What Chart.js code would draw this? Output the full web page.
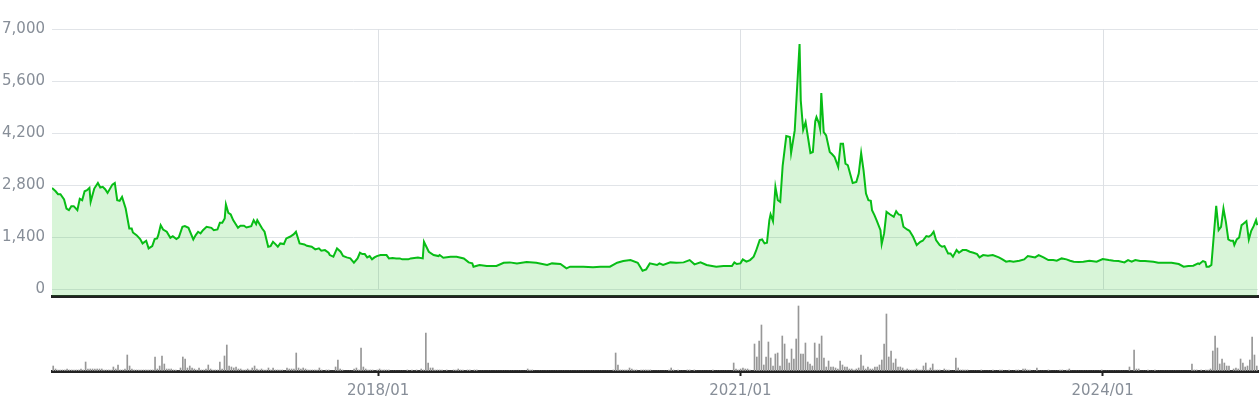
<!DOCTYPE html>
<html>
<head>
<meta charset="utf-8">
<script src="https://cdn.jsdelivr.net/npm/chart.js@4.4.1/dist/chart.umd.min.js"></script>
<style>
  html, body { margin: 0; padding: 0; background: #fff; }
  #wrap { position: relative; width: 1259px; height: 400px; overflow: hidden; }
  #priceChart { position: absolute; left: 0; top: 0; }
  #volChart { position: absolute; left: 0; top: 297px; }
</style>
</head>
<body>
<div id="wrap">
  <canvas id="priceChart" width="1259" height="312"></canvas>
  <canvas id="volChart" width="1259" height="103"></canvas>
</div>
<script>
// dates as decimal years
const priceDates = [
  2015.30, 2015.33, 2015.35, 2015.37, 2015.40, 2015.42, 2015.44, 2015.46, 2015.48, 2015.51,
  2015.53, 2015.55, 2015.57, 2015.59, 2015.61, 2015.62, 2015.65, 2015.68, 2015.70, 2015.72,
  2015.74, 2015.76, 2015.80, 2015.82, 2015.84, 2015.86, 2015.88, 2015.91, 2015.94, 2015.96,
  2015.97, 2016.00, 2016.03, 2016.05, 2016.08, 2016.10, 2016.13, 2016.15, 2016.17, 2016.18,
  2016.20, 2016.22, 2016.25, 2016.28, 2016.30, 2016.33, 2016.35, 2016.38, 2016.40, 2016.43,
  2016.47, 2016.49, 2016.51, 2016.53, 2016.55, 2016.58, 2016.62, 2016.64, 2016.67, 2016.69,
  2016.71, 2016.73, 2016.74, 2016.76, 2016.78, 2016.80, 2016.84, 2016.86, 2016.89, 2016.91,
  2016.95, 2016.97, 2016.99, 2017.00, 2017.04, 2017.06, 2017.09, 2017.11, 2017.13, 2017.15,
  2017.17, 2017.19, 2017.22, 2017.24, 2017.27, 2017.30, 2017.32, 2017.35, 2017.39, 2017.41,
  2017.45, 2017.48, 2017.51, 2017.53, 2017.56, 2017.59, 2017.60, 2017.63, 2017.66, 2017.69,
  2017.71, 2017.74, 2017.77, 2017.80, 2017.83, 2017.85, 2017.87, 2017.89, 2017.91, 2017.93,
  2017.95, 2017.97, 2017.99, 2018.02, 2018.07, 2018.09, 2018.12, 2018.15, 2018.18, 2018.20,
  2018.25, 2018.27, 2018.33, 2018.37, 2018.38, 2018.42, 2018.46, 2018.50, 2018.51, 2018.54,
  2018.60, 2018.65, 2018.71, 2018.75, 2018.78, 2018.79, 2018.84, 2018.90, 2018.98, 2019.04,
  2019.09, 2019.15, 2019.23, 2019.31, 2019.40, 2019.44, 2019.51, 2019.56, 2019.59, 2019.62,
  2019.70, 2019.78, 2019.84, 2019.92, 2019.98, 2020.03, 2020.09, 2020.15, 2020.17, 2020.19,
  2020.22, 2020.25, 2020.31, 2020.33, 2020.36, 2020.42, 2020.47, 2020.53, 2020.58, 2020.62,
  2020.67, 2020.72, 2020.80, 2020.86, 2020.93, 2020.95, 2020.97, 2021.00, 2021.02, 2021.05,
  2021.08, 2021.11, 2021.13, 2021.16, 2021.18, 2021.20, 2021.22, 2021.24, 2021.25, 2021.27,
  2021.29, 2021.31, 2021.33, 2021.35, 2021.38, 2021.41, 2021.42, 2021.45, 2021.49, 2021.50,
  2021.52, 2021.54, 2021.58, 2021.60, 2021.62, 2021.63, 2021.65, 2021.66, 2021.67, 2021.69,
  2021.71, 2021.74, 2021.76, 2021.78, 2021.81, 2021.83, 2021.85, 2021.87, 2021.89, 2021.91,
  2021.93, 2021.96, 2021.98, 2022.00, 2022.02, 2022.04, 2022.06, 2022.08, 2022.09, 2022.11,
  2022.13, 2022.16, 2022.17, 2022.19, 2022.21, 2022.24, 2022.27, 2022.29, 2022.31, 2022.33,
  2022.35, 2022.38, 2022.40, 2022.43, 2022.46, 2022.49, 2022.51, 2022.54, 2022.56, 2022.58,
  2022.60, 2022.62, 2022.65, 2022.67, 2022.69, 2022.72, 2022.74, 2022.76, 2022.79, 2022.81,
  2022.84, 2022.87, 2022.90, 2022.93, 2022.96, 2022.98, 2023.01, 2023.05, 2023.09, 2023.14,
  2023.17, 2023.20, 2023.23, 2023.26, 2023.31, 2023.35, 2023.38, 2023.41, 2023.44, 2023.47,
  2023.51, 2023.55, 2023.59, 2023.62, 2023.66, 2023.70, 2023.73, 2023.76, 2023.80, 2023.84,
  2023.89, 2023.95, 2024.00, 2024.05, 2024.09, 2024.13, 2024.18, 2024.21, 2024.24, 2024.27,
  2024.31, 2024.35, 2024.42, 2024.46, 2024.50, 2024.57, 2024.63, 2024.67, 2024.71, 2024.75,
  2024.79, 2024.80, 2024.83, 2024.85, 2024.86, 2024.88, 2024.90, 2024.94, 2024.96, 2024.98,
  2025.00, 2025.02, 2025.04, 2025.06, 2025.08, 2025.09, 2025.11, 2025.13, 2025.15, 2025.16,
  2025.19, 2025.21, 2025.23, 2025.25, 2025.27, 2025.28
];
const priceValues = [
  2727, 2637, 2557, 2557, 2414, 2172, 2128, 2235, 2235, 2128,
  2432, 2396, 2637, 2664, 2727, 2351, 2709, 2861, 2736, 2754,
  2691, 2593, 2816, 2861, 2396, 2378, 2485, 2172, 1636, 1636,
  1529, 1457, 1350, 1234, 1305, 1100, 1162, 1350, 1368, 1457,
  1725, 1609, 1547, 1386, 1430, 1350, 1395, 1681, 1699, 1654,
  1341, 1457, 1547, 1502, 1591, 1681, 1654, 1591, 1609, 1788,
  1788, 1904, 2280, 2056, 2012, 1860, 1654, 1708, 1708, 1663,
  1699, 1860, 1752, 1860, 1636, 1547, 1144, 1162, 1278, 1216,
  1144, 1234, 1216, 1368, 1413, 1475, 1547, 1234, 1207, 1171,
  1144, 1073, 1100, 1037, 1055, 983, 921, 876, 1100, 1010,
  894, 858, 831, 715, 831, 983, 948, 948, 858, 894,
  805, 858, 894, 921, 921, 831, 840, 831, 831, 805,
  805, 831, 858, 831, 1278, 1010, 921, 894, 921, 849,
  876, 876, 831, 724, 697, 608, 653, 626, 626, 715,
  724, 697, 733, 715, 653, 697, 679, 563, 608, 608,
  608, 590, 608, 608, 715, 760, 787, 715, 608, 501,
  536, 697, 653, 697, 653, 724, 715, 724, 787, 671,
  724, 653, 608, 626, 626, 724, 679, 697, 805, 742,
  787, 876, 1037, 1323, 1341, 1234, 1252, 1860, 2012, 1833,
  2754, 2396, 2351, 3317, 4121, 4095, 3665, 4273, 6598, 5078,
  4291, 4497, 3665, 3692, 4524, 4631, 4470, 4318, 5275, 4229,
  4139, 3692, 3630, 3558, 3290, 3916, 3916, 3379, 3335, 3093,
  2861, 2888, 3111, 3665, 3201, 2575, 2396, 2378, 2128, 1994,
  1842, 1591, 1216, 1502, 2083, 2012, 1949, 2101, 2012, 1994,
  1681, 1609, 1573, 1413, 1189, 1278, 1305, 1430, 1413, 1457,
  1547, 1323, 1189, 1144, 1162, 966, 966, 876, 1055, 983,
  1055, 1055, 1010, 983, 948, 858, 921, 903, 921, 858,
  805, 742, 760, 742, 769, 805, 894, 876, 858, 921,
  858, 787, 787, 769, 831, 805, 769, 742, 733, 742,
  769, 742, 814, 787, 769, 760, 724, 787, 742, 787,
  760, 760, 742, 715, 715, 715, 679, 608, 626, 635,
  697, 679, 760, 733, 608, 608, 653, 2244, 1591, 1681,
  2172, 1815, 1341, 1305, 1305, 1189, 1341, 1395, 1725, 1752,
  1833, 1341, 1573, 1699, 1860, 1725
];

// weekly volume, first week ~ 2015/04/24
const volStart = 2015.31;
const weekStep = 7 / 365.25;
const volume = [
  5, 2, 1, 1, 1, 1, 2, 1, 1, 1,   1, 1, 2, 1, 9, 2, 2, 2, 2, 2,
  2, 2, 1, 1, 1, 1, 4, 2, 6, 1,   1, 2, 16, 5, 2, 1, 1, 1, 1, 1,
  1, 1, 1, 1, 14, 2, 5, 15, 7, 2,  2, 2, 1, 1, 0, 3, 14, 12, 3, 5,
  3, 2, 1, 3, 1, 1, 2, 6, 2, 1,   1, 1, 9, 2, 15, 26, 5, 4, 3, 4,
  2, 2, 1, 1, 2, 1, 3, 5, 2, 1,   2, 1, 1, 3, 1, 3, 1, 1, 1, 1,
  0, 3, 2, 2, 2, 18, 3, 2, 3, 2,  1, 1, 1, 1, 1, 3, 1, 0, 1, 1,
  0, 0, 4, 11, 2, 1, 0, 0, 0, 0,  2, 3, 1, 23, 4, 2, 1, 1, 1, 0,
  1, 2, 1, 1, 1, 1, 0, 0, 0, 0,   0, 0, 0, 1, 0, 1, 0, 1, 0, 2,
  1, 38, 8, 3, 3, 1, 1, 1, 1, 0,  1, 0, 0, 1, 1, 2, 1, 1, 0, 1,
  1, 0, 1, 1, 0, 0, 0, 0, 0, 0,   0, 0, 0, 0, 0, 0, 0, 0, 0, 0,
  0, 0, 0, 0, 0, 2, 1, 1, 0, 0,   0, 0, 0, 0, 0, 0, 0, 0, 0, 0,
  0, 0, 0, 0, 0, 0, 0, 0, 0, 0,   0, 0, 0, 0, 0, 0, 0, 0, 0, 0,
  0, 0, 1, 18, 6, 1, 1, 1, 1, 3,  2, 1, 1, 0, 1, 1, 1, 1, 1, 0,
  0, 0, 0, 0, 0, 0, 1, 3, 1, 0,   1, 0, 0, 0, 1, 1, 0, 1, 0, 0,
  0, 0, 0, 0, 0, 1, 0, 0, 0, 0,   0, 0, 0, 0, 8, 2, 1, 2, 3, 2,
  2, 1, 0, 27, 14, 30, 46, 6, 14, 29,  13, 5, 17, 18, 5, 35, 27, 12, 8, 22,
  12, 32, 65, 17, 17, 28, 9, 7, 5, 28,  13, 27, 35, 13, 4, 10, 4, 4, 3, 2,
  10, 6, 4, 4, 2, 2, 1, 2, 3, 16,  5, 2, 4, 2, 2, 4, 4, 6, 11, 27,
  57, 14, 20, 8, 12, 4, 4, 3, 1, 2,  1, 1, 1, 2, 1, 1, 5, 8, 1, 3,
  7, 1, 1, 1, 0, 2, 1, 1, 0, 0,   13, 3, 1, 1, 1, 1, 0, 0, 0, 0,
  0, 1, 0, 0, 0, 0, 1, 0, 0, 1,   1, 0, 0, 1, 0, 0, 1, 1, 0, 2,
  2, 1, 1, 0, 0, 3, 0, 0, 0, 0,   1, 0, 0, 0, 0, 1, 1, 0, 1, 2,
  0, 0, 0, 0, 0, 0, 0, 0, 0, 0,   0, 0, 0, 1, 0, 0, 0, 0, 0, 0,
  0, 0, 0, 0, 0, 4, 0, 21, 2, 2,  0, 0, 0, 1, 0, 0, 1, 0, 0, 0,
  0, 0, 0, 0, 0, 0, 0, 0, 0, 0,   0, 0, 7, 1, 1, 0, 1, 0, 1, 1,
  2, 20, 35, 23, 7, 12, 8, 5, 5, 0,  2, 3, 2, 12, 8, 4, 5, 11, 34, 16,
  5
];

const priceTicks = [0, 1400, 2800, 4200, 5600, 7000];
const yearTicks = [2018, 2021, 2024];
const xMin = 2015.30;
const xMax = 2025.286;

const labelFont = { family: 'DejaVu Sans', size: 15 };
const labelColor = '#878e98';

// vertical year lines, only down to the zero line
const yearLines = {
  id: 'yearLines',
  beforeDatasetsDraw(chart) {
    const ctx = chart.ctx;
    const x = chart.scales.x;
    const y = chart.scales.y;
    ctx.save();
    ctx.strokeStyle = '#dde0e4';
    ctx.lineWidth = 1;
    yearTicks.forEach(yr => {
      const px = Math.round(x.getPixelForValue(yr)) + 0.5;
      ctx.beginPath();
      ctx.moveTo(px, y.top);
      ctx.lineTo(px, y.getPixelForValue(0));
      ctx.stroke();
    });
    ctx.restore();
  }
};

new Chart(document.getElementById('priceChart'), {
  type: 'line',
  data: {
    datasets: [{
      data: priceDates.map((t, i) => ({ x: t, y: priceValues[i] })),
      borderColor: '#08bd16',
      borderWidth: 2,
      backgroundColor: 'rgba(40, 200, 40, 0.18)',
      fill: 'start',
      pointRadius: 0,
      tension: 0
    }]
  },
  options: {
    responsive: false,
    animation: false,
    layout: { padding: { top: 29, right: 1, left: 0, bottom: 0 } },
    plugins: { legend: { display: false }, tooltip: { enabled: false } },
    scales: {
      x: {
        type: 'linear',
        min: xMin,
        max: xMax,
        afterFit: s => { s.height = 4; },
        ticks: { display: false },
        grid: { display: false },
        border: { display: true, color: '#222', width: 3 }
      },
      y: {
        min: -180,
        max: 7000,
        afterBuildTicks: s => { s.ticks = priceTicks.map(v => ({ value: v })); },
        afterFit: s => { s.width = 52; },
        ticks: {
          padding: 7,
          color: labelColor,
          font: labelFont,
          callback: v => v.toLocaleString('en-US')
        },
        grid: { color: '#e1e4e8', drawTicks: false },
        border: { display: false }
      }
    }
  },
  plugins: [yearLines]
});

new Chart(document.getElementById('volChart'), {
  type: 'bar',
  data: {
    datasets: [{
      data: volume.map((v, i) => ({ x: volStart + i * weekStep, y: v })),
      backgroundColor: '#979797',
      borderWidth: 0,
      barThickness: 1
    }]
  },
  options: {
    responsive: false,
    animation: false,
    layout: { padding: { top: 3, right: 1, left: 52, bottom: 0 } },
    plugins: { legend: { display: false }, tooltip: { enabled: false } },
    scales: {
      x: {
        type: 'linear',
        min: xMin,
        max: xMax,
        offset: false,
        afterBuildTicks: s => { s.ticks = yearTicks.map(v => ({ value: v })); },
        afterFit: s => { s.height = 29; },
        ticks: {
          padding: 6,
          color: labelColor,
          font: labelFont,
          maxRotation: 0,
          autoSkip: false,
          callback: v => v + '/01'
        },
        grid: { offset: false, drawOnChartArea: false, tickLength: 5, tickWidth: 2, tickColor: '#222' },
        border: { color: '#222', width: 3 }
      },
      y: { display: false, min: 0, max: 71 }
    }
  }
});
</script>
</body>
</html>
